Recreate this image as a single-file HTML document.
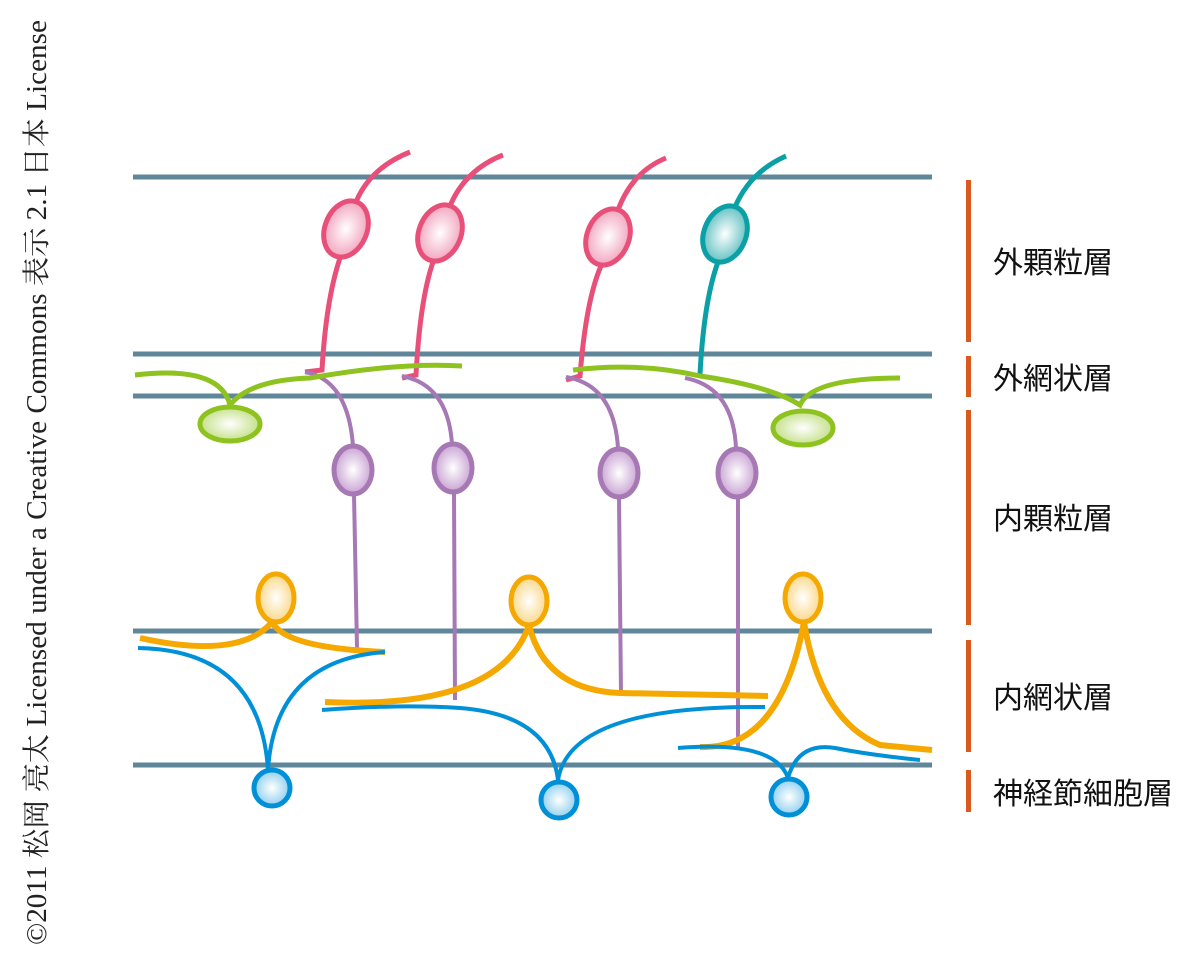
<!DOCTYPE html>
<html><head><meta charset="utf-8"><style>
html,body{margin:0;padding:0;background:#fff;width:1200px;height:971px;overflow:hidden}
</style></head><body>
<svg width="1200" height="971" viewBox="0 0 1200 971" xmlns="http://www.w3.org/2000/svg">
<defs>
<radialGradient id="gp"><stop offset="0" stop-color="#fff"/><stop offset="1" stop-color="#f2a6c0"/></radialGradient>
<radialGradient id="gt"><stop offset="0" stop-color="#fff"/><stop offset="1" stop-color="#66c2c4"/></radialGradient>
<radialGradient id="gg"><stop offset="0" stop-color="#fff"/><stop offset="1" stop-color="#c5e08a"/></radialGradient>
<radialGradient id="gu"><stop offset="0" stop-color="#fff"/><stop offset="1" stop-color="#c9a3d3"/></radialGradient>
<radialGradient id="go"><stop offset="0" stop-color="#fff"/><stop offset="1" stop-color="#fbd88a"/></radialGradient>
<radialGradient id="gb"><stop offset="0" stop-color="#fff"/><stop offset="1" stop-color="#8fcff0"/></radialGradient>
</defs>
<text transform="translate(46,945) rotate(-90)" font-family="Liberation Serif, Noto Serif CJK SC, serif" font-size="28" fill="#222" textLength="925" lengthAdjust="spacingAndGlyphs">©2011 松岡 亮太 Licensed under a Creative Commons 表示 2.1  日本 License</text>
<g stroke="#5f8799" stroke-width="5">
<line x1="133" y1="177" x2="932" y2="177"/><line x1="133" y1="354" x2="932" y2="354"/>
<line x1="133" y1="396" x2="932" y2="396"/><line x1="133" y1="631" x2="932" y2="631"/>
<line x1="133" y1="765" x2="932" y2="765"/>
</g>
<g fill="none" stroke-linecap="butt">
<g stroke="#e8507a" stroke-width="5">
<path d="M356 202 Q370 168 410 152"/><path d="M340 258 Q326 300 322 370 L305 372"/>
<path d="M450 206 Q465 170 503 155"/><path d="M433 262 Q420 300 416 375 L402 378"/>
<path d="M618 210 Q632 172 666 158"/><path d="M601 266 Q586 300 580 376 L566 380"/>
</g>
<path d="M735 207 Q750 172 786 156" stroke="#0aa0a6" stroke-width="5"/>
<path d="M718 262 Q704 300 700 374" stroke="#0aa0a6" stroke-width="5"/>
<g stroke="#a678b4" stroke-width="4">
<path d="M305 372 Q348 380 353 446 M354 494 L357 648"/>
<path d="M402 376 Q448 385 452 444 M454 492 L455 700"/>
<path d="M566 377 Q614 385 618 448 M619 498 L621 695"/>
<path d="M685 378 Q733 387 736 448 M738 498 L738 748"/>
</g>
<g stroke="#8dc21f" stroke-width="5">
<path d="M135 375 Q220 365 230 405 Q250 380 310 378 Q400 362 462 366"/>
<path d="M573 370 Q640 362 700 376 Q770 386 800 405 Q812 378 900 378"/>
</g>
<g stroke="#f5a800" stroke-width="6">
<path d="M140 638 Q240 660 272 622 Q285 648 385 652"/>
<path d="M325 702 Q500 710 529 625 Q545 690 620 693 L768 696"/>
<path d="M700 747 Q780 750 804 622 Q820 720 880 745 L932 750"/>
</g>
<g stroke="#0090d8" stroke-width="4">
<path d="M138 648 Q260 650 268 770 Q275 660 385 652"/>
<path d="M322 710 Q400 704 460 708 Q550 715 558 780 Q570 705 765 707"/>
<path d="M678 748 Q775 740 788 778 Q798 742 835 748 Q870 755 920 760"/>
</g>
</g>
<g stroke-width="5">
<ellipse cx="346" cy="229" rx="21" ry="29" transform="rotate(22 346 229)" fill="url(#gp)" stroke="#e8507a"/>
<ellipse cx="440" cy="233" rx="21" ry="29" transform="rotate(22 440 233)" fill="url(#gp)" stroke="#e8507a"/>
<ellipse cx="608" cy="237" rx="21" ry="29" transform="rotate(22 608 237)" fill="url(#gp)" stroke="#e8507a"/>
<ellipse cx="725" cy="234" rx="21" ry="29" transform="rotate(22 725 234)" fill="url(#gt)" stroke="#0aa0a6"/>
<ellipse cx="230" cy="424" rx="30" ry="17" fill="url(#gg)" stroke="#8dc21f"/>
<ellipse cx="803" cy="428" rx="30" ry="17" fill="url(#gg)" stroke="#8dc21f"/>
<ellipse cx="353" cy="470" rx="19" ry="24" fill="url(#gu)" stroke="#a678b4"/>
<ellipse cx="453" cy="468" rx="19" ry="24" fill="url(#gu)" stroke="#a678b4"/>
<ellipse cx="619" cy="473" rx="19" ry="24" fill="url(#gu)" stroke="#a678b4"/>
<ellipse cx="737" cy="473" rx="19" ry="24" fill="url(#gu)" stroke="#a678b4"/>
<ellipse cx="276" cy="598" rx="18" ry="24" fill="url(#go)" stroke="#f5a800"/>
<ellipse cx="529" cy="601" rx="18" ry="24" fill="url(#go)" stroke="#f5a800"/>
<ellipse cx="803" cy="598" rx="18" ry="24" fill="url(#go)" stroke="#f5a800"/>
<circle cx="272" cy="788" r="18" fill="url(#gb)" stroke="#0090d8"/>
<circle cx="559" cy="800" r="18" fill="url(#gb)" stroke="#0090d8"/>
<circle cx="789" cy="797" r="18" fill="url(#gb)" stroke="#0090d8"/>
</g>
<g fill="#d95a1e">
<rect x="966" y="180" width="5" height="162"/><rect x="966" y="356" width="5" height="41"/>
<rect x="966" y="410" width="5" height="215"/><rect x="966" y="640" width="5" height="112"/>
<rect x="966" y="770" width="5" height="42"/>
</g>
<g font-family="Liberation Sans, Noto Sans CJK JP, sans-serif" font-size="30" fill="#111">
<text x="993" y="273">外顆粒層</text><text x="993" y="389">外網状層</text>
<text x="993" y="529">内顆粒層</text><text x="993" y="708">内網状層</text>
<text x="993" y="804">神経節細胞層</text>
</g>
</svg>
</body></html>
